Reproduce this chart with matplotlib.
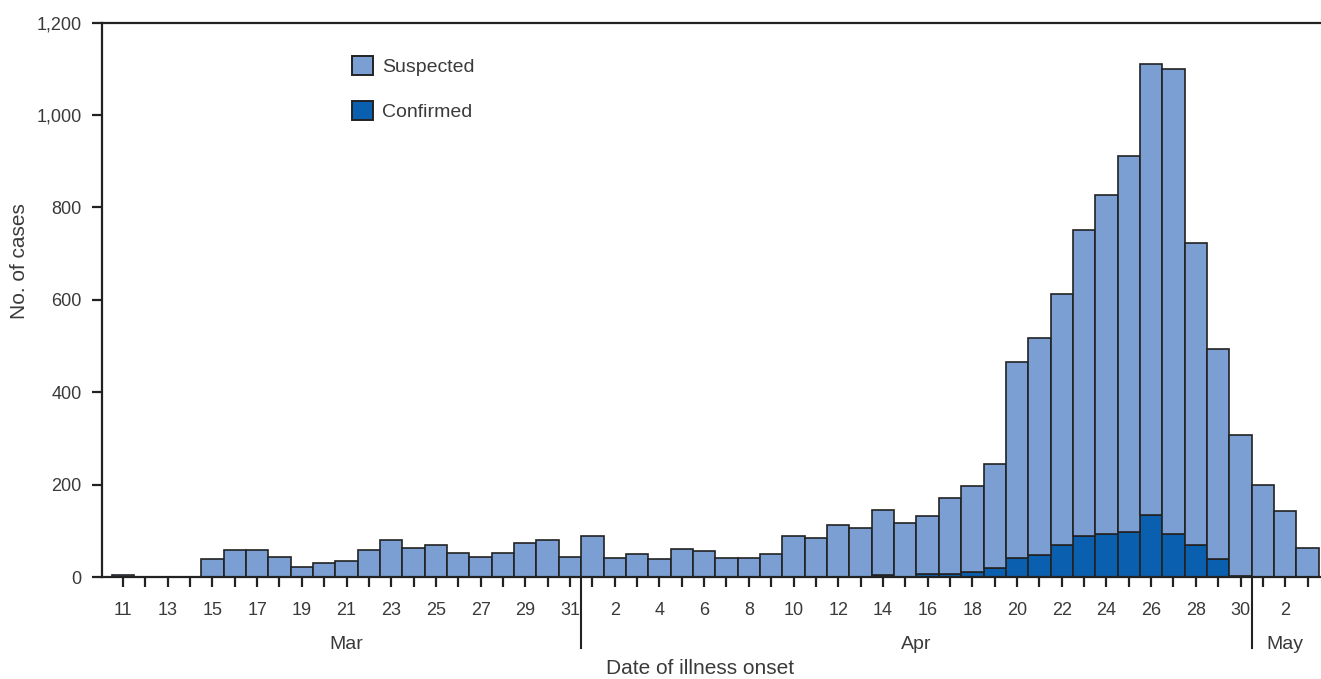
import matplotlib
matplotlib.use("Agg")
import matplotlib.pyplot as plt
from matplotlib.patches import Patch
from matplotlib.ticker import FuncFormatter

# days of illness onset, by month
mar_days = list(range(11, 32))
apr_days = list(range(1, 31))
may_days = [1, 2, 3]

# cases per day (mar 11 .. may 3)
confirmed = [0, 0, 0, 0, 0, 0, 0, 0, 0, 0, 0, 0, 0, 0, 0, 0, 0, 0, 0, 0, 0,
             0, 0, 0, 0, 0, 0, 0, 0, 0, 0, 0, 0, 0, 5, 0, 6, 6, 10, 19,
             42, 48, 70, 88, 94, 98, 134, 94, 70, 38, 3,
             0, 0, 0]
suspected = [5, 0, 0, 0, 40, 58, 58, 43, 22, 31, 35, 58, 79, 62, 69, 52, 44, 52, 73, 79, 43,
             88, 42, 50, 38, 61, 56, 42, 42, 50, 89, 85, 113, 106, 140, 116, 125, 164, 188, 226,
             423, 469, 543, 662, 732, 814, 976, 1006, 653, 456, 304,
             200, 143, 62]

light_blue = "#7b9fd2"
dark_blue = "#0a5fae"
edge = "#222222"
text_col = "#3a3a3a"
font = ["Liberation Sans", "DejaVu Sans"]

plt.rcParams["font.family"] = font

W, H = 1321, 679


def fy(py):
    # pixel row -> figure fraction
    return 1 - py / H


def run():
    fig = plt.figure(figsize=(W / 100, H / 100), dpi=100)
    ax = fig.add_axes([102 / W, fy(577), 1 - 102 / W, (577 - 22.5) / H])

    x = list(range(len(suspected)))
    ax.bar(x, confirmed, width=1.0, color=dark_blue, edgecolor=edge, linewidth=1.2, zorder=2)
    ax.bar(x, suspected, width=1.0, bottom=confirmed, color=light_blue,
           edgecolor=edge, linewidth=1.2, zorder=2)

    ax.set_xlim(-0.94, len(x) - 0.4)
    ax.set_ylim(0, 1200)

    # tick labels: odd days in march, even days later
    labels = [str(d) if d % 2 == 1 else "" for d in mar_days]
    labels += [str(d) if d % 2 == 0 else "" for d in apr_days + may_days]
    ax.set_xticks(x)
    ax.set_xticklabels(labels)
    ax.set_yticks(range(0, 1201, 200))
    ax.yaxis.set_major_formatter(FuncFormatter(lambda v, p: "{:,.0f}".format(v)))

    ax.tick_params(axis="x", length=7, width=1.6, color=edge, pad=11,
                   labelsize=13, labelcolor=text_col)
    ax.tick_params(axis="y", length=7.5, width=1.6, color=edge, pad=7,
                   labelsize=13, labelcolor=text_col)

    for s in ["left", "top", "bottom"]:
        ax.spines[s].set_linewidth(1.6)
        ax.spines[s].set_color(edge)
    ax.spines["right"].set_visible(False)

    # month separators and names under the axis
    tr = ax.get_xaxis_transform()
    n_mar, n_apr = len(mar_days), len(apr_days)
    for b in [n_mar - 0.5, n_mar + n_apr - 0.5]:
        ax.plot([b, b], [0, -0.128], transform=tr, color=edge, lw=1.5, clip_on=False)
    months = [("Mar", (n_mar - 1) / 2),
              ("Apr", n_mar + (n_apr - 1) / 2),
              ("May", n_mar + n_apr + (len(may_days) - 1) / 2)]
    for name, pos in months:
        ax.text(pos, -0.121, name, transform=tr, ha="center", va="center",
                fontsize=14, color=text_col)

    fig.text(700 / W, fy(668), "Date of illness onset", ha="center", va="center",
             fontsize=15, color=text_col)
    fig.text(20 / W, fy(261), "No. of cases", ha="center", va="center",
             rotation=90, fontsize=15, color=text_col)

    handles = [Patch(facecolor=light_blue, edgecolor=edge, linewidth=1.4, label="Suspected"),
               Patch(facecolor=dark_blue, edgecolor=edge, linewidth=1.4, label="Confirmed")]
    leg = ax.legend(handles=handles, loc="upper left", bbox_to_anchor=(352 / W, fy(56)),
                    bbox_transform=fig.transFigure, frameon=False, fontsize=14,
                    handlelength=1.1, handleheight=1.1, handletextpad=0.45,
                    labelspacing=1.3, borderpad=0, borderaxespad=0)
    for t in leg.get_texts():
        t.set_color(text_col)

    fig.savefig("out.png", dpi=100)
    plt.close(fig)


if __name__ == "__main__":
    run()
